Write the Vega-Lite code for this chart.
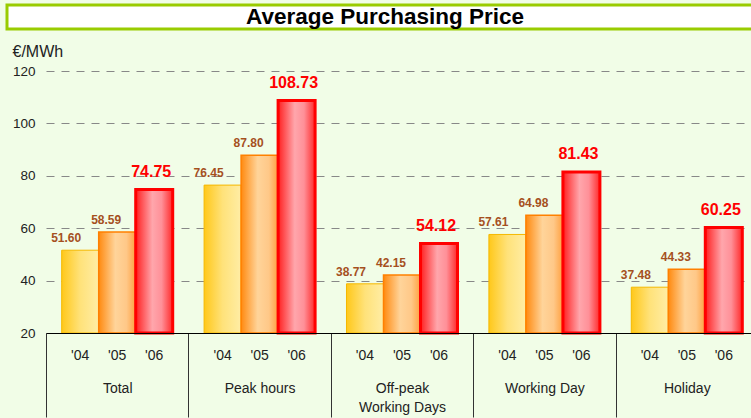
{
  "$schema": "https://vega.github.io/schema/vega-lite/v6.json",
  "background": "#F1FDE7",
  "padding": {"left": 5, "top": 3, "right": 0, "bottom": 0},
  "config": {"font": "Liberation Sans", "view": {"stroke": null}},
  "datasets": {
    "prices": [
      {"group": "Total", "year": "'04", "price": 51.60},
      {"group": "Total", "year": "'05", "price": 58.59},
      {"group": "Total", "year": "'06", "price": 74.75},
      {"group": "Peak hours", "year": "'04", "price": 76.45},
      {"group": "Peak hours", "year": "'05", "price": 87.80},
      {"group": "Peak hours", "year": "'06", "price": 108.73},
      {"group": "Off-peak|Working Days", "year": "'04", "price": 38.77},
      {"group": "Off-peak|Working Days", "year": "'05", "price": 42.15},
      {"group": "Off-peak|Working Days", "year": "'06", "price": 54.12},
      {"group": "Working Day", "year": "'04", "price": 57.61},
      {"group": "Working Day", "year": "'05", "price": 64.98},
      {"group": "Working Day", "year": "'06", "price": 81.43},
      {"group": "Holiday", "year": "'04", "price": 37.48},
      {"group": "Holiday", "year": "'05", "price": 44.33},
      {"group": "Holiday", "year": "'06", "price": 60.25}
    ],
    "title": [{"t": "Average Purchasing Price"}]
  },
  "vconcat": [
    {
      "width": 750,
      "height": 24,
      "view": {"stroke": "#99CC00", "strokeWidth": 3, "fill": "#FFFFFF"},
      "data": {"name": "title"},
      "mark": {"type": "text", "fontSize": 22.5, "fontWeight": "bold", "color": "#000000", "baseline": "middle", "dx": 3},
      "encoding": {"text": {"field": "t"}}
    },
    {
      "width": 751,
      "height": 262,
      "data": {"name": "prices"},
      "encoding": {
        "x": {
          "field": "group", "type": "nominal", "sort": null,
          "scale": {"paddingInner": 0, "paddingOuter": 0, "range": [39, 751]},
          "axis": {
            "title": null, "labelAngle": 0, "labelFontSize": 14, "labelColor": "#222222",
            "labelExpr": "split(datum.label, '|')", "labelLineHeight": 19,
            "labelPadding": -36, "tickBand": "extent", "tickSize": 84, "tickColor": "#333333",
            "tickWidth": 1, "domainColor": "#000000", "domainWidth": 1, "zindex": 1
          }
        },
        "xOffset": {"field": "year", "type": "nominal", "sort": null, "scale": {"paddingInner": 0, "paddingOuter": 0.424}},
        "y": {
          "field": "price", "type": "quantitative",
          "scale": {"domain": [20, 120], "nice": false, "zero": false},
          "axis": {
            "values": [20, 40, 60, 80, 100, 120], "ticks": false, "domain": false, "offset": -39,
            "labelFontSize": 13.5, "labelColor": "#222222", "labelPadding": 11,
            "grid": true, "gridDash": [8, 7], "gridColor": "#888888", "gridWidth": 1.2,
            "title": "€/MWh", "titleAngle": 0, "titleAlign": "left", "titleBaseline": "top",
            "titleX": -34, "titleY": -28, "titleFontSize": 16, "titleFontWeight": "normal", "titleColor": "#222222"
          }
        }
      },
      "layer": [
        {
          "transform": [{"filter": "datum.year == \"'04\""}],
          "mark": {"type": "bar", "stroke": "#F5B800", "strokeWidth": 1,
            "color": {"gradient": "linear", "x1": 0, "x2": 1, "y1": 0, "y2": 0,
              "stops": [{"offset": 0, "color": "#FFC81A"}, {"offset": 0.5, "color": "#FFE27A"}, {"offset": 1, "color": "#FFEDA5"}]}},
          "encoding": {"y2": {"datum": 20}}
        },
        {
          "transform": [{"filter": "datum.year == \"'05\""}],
          "mark": {"type": "bar", "stroke": "#FF8000", "strokeWidth": 1.5,
            "color": {"gradient": "linear", "x1": 0, "x2": 1, "y1": 0, "y2": 0,
              "stops": [{"offset": 0, "color": "#FF8A10"}, {"offset": 0.45, "color": "#FFD49A"}, {"offset": 0.75, "color": "#FFC888"}, {"offset": 1, "color": "#FFA040"}]}},
          "encoding": {"y2": {"datum": 20}}
        },
        {
          "transform": [{"filter": "datum.year == \"'06\""}],
          "mark": {"type": "bar", "stroke": "#FF0000", "strokeWidth": 3,
            "color": {"gradient": "linear", "x1": 0, "x2": 1, "y1": 0, "y2": 0,
              "stops": [{"offset": 0, "color": "#FF2020"}, {"offset": 0.45, "color": "#FFA6AC"}, {"offset": 0.7, "color": "#FF9098"}, {"offset": 1, "color": "#FF2A2A"}]}},
          "encoding": {"y2": {"datum": 20}}
        },
        {
          "transform": [{"filter": "datum.year == \"'04\""}],
          "mark": {"type": "text", "fontSize": 12, "fontWeight": "bold", "color": "#A5501E", "baseline": "alphabetic", "dy": -8, "dx": -14},
          "encoding": {"text": {"field": "price", "type": "quantitative", "format": ".2f"}}
        },
        {
          "transform": [{"filter": "datum.year == \"'05\""}],
          "mark": {"type": "text", "fontSize": 12, "fontWeight": "bold", "color": "#A5501E", "baseline": "alphabetic", "dy": -8, "dx": -11},
          "encoding": {"text": {"field": "price", "type": "quantitative", "format": ".2f"}}
        },
        {
          "transform": [{"filter": "datum.year == \"'06\""}],
          "mark": {"type": "text", "fontSize": 16, "fontWeight": "bold", "color": "#FF0000", "baseline": "alphabetic", "dy": -13, "dx": -3},
          "encoding": {"text": {"field": "price", "type": "quantitative", "format": ".2f"}}
        },
        {
          "mark": {"type": "text", "fontSize": 14, "color": "#222222", "baseline": "middle", "dy": 23},
          "encoding": {"y": {"datum": 20}, "text": {"field": "year"}}
        }
      ]
    }
  ],
  "spacing": 12
}
